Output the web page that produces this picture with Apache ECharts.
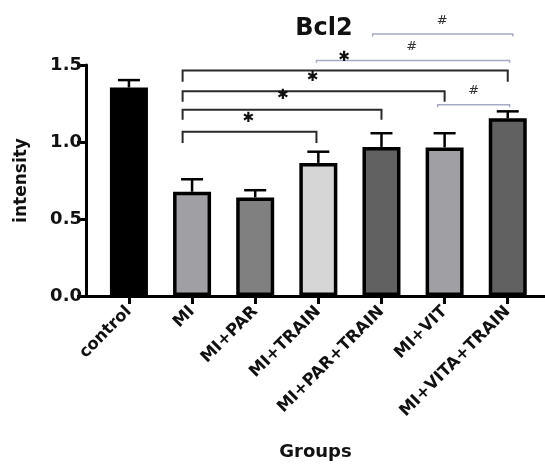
<!DOCTYPE html>
<html><head><meta charset="utf-8">
<script src="https://cdn.jsdelivr.net/npm/echarts@6/dist/echarts.min.js"></script>
<style>html,body{margin:0;padding:0;background:#fff}#c{width:545px;height:466px}</style>
</head><body><div id="c"></div>
<script>
const categories = ['control','MI','MI+PAR','MI+TRAIN','MI+PAR+TRAIN','MI+VIT','MI+VITA+TRAIN'];
const means = [1.354, 0.677, 0.640, 0.864, 0.968, 0.965, 1.154];
const errTops = [1.402, 0.758, 0.687, 0.937, 1.057, 1.057, 1.199];
const barColors = ['#000000','#a0a0a4','#808080','#d6d6d6','#616161','#a0a0a4','#616161'];
// brackets: [x1, x2, y, dropY, kind]
const brackets = [
  [0.85, 2.97, 1.067, 0.994, 'thick'],
  [0.85, 4.0, 1.209, 1.145, 'thick'],
  [0.85, 5.0, 1.329, 1.262, 'thick'],
  [0.85, 6.0, 1.465, 1.392, 'thick'],
  [3.86, 6.08, 1.701, 1.685, 'thin'],
  [2.97, 6.03, 1.530, 1.514, 'thin'],
  [4.89, 6.03, 1.242, 1.226, 'thin']
];
// significance marks: [x, y, text]
const marks = [
  [1.89, 1.154, '*'], [2.44, 1.30, '*'], [2.91, 1.419, '*'], [3.41, 1.551, '*'],
  [4.96, 1.791, '#'], [4.48, 1.622, '#'], [5.46, 1.334, '#']
];

const FONT = '"DejaVu Sans", sans-serif';
const idx = categories.map((_, i) => i);
const chart = echarts.init(document.getElementById('c'), null, {renderer: 'canvas'});
chart.setOption({
  animation: false,
  title: {text: 'Bcl2', left: 319, top: 12, textAlign: 'center',
    textStyle: {fontFamily: FONT, fontWeight: 'bold', fontSize: 24, color: '#111'}},
  grid: {left: 86, top: 65, right: 0, bottom: 155, containLabel: false},
  xAxis: {
    type: 'value', min: -0.68, max: 6.59,
    name: 'Groups', nameLocation: 'middle', nameGap: 147,
    nameTextStyle: {fontFamily: FONT, fontWeight: 'bold', fontSize: 18, color: '#111'},
    splitLine: {show: false},
    axisLine: {show: true, onZero: false, lineStyle: {color: '#000', width: 3}},
    axisTick: {show: true, customValues: idx, length: 8, lineStyle: {color: '#000', width: 3}},
    axisLabel: {customValues: idx, rotate: 45, margin: 13, formatter: v => categories[Math.round(v)] || '',
      fontFamily: FONT, fontWeight: 'bold', fontSize: 16.5, color: '#111'}
  },
  yAxis: {
    type: 'value', min: 0, max: 1.5, interval: 0.5,
    name: 'intensity', nameLocation: 'middle', nameGap: 56, nameRotate: 90,
    nameTextStyle: {fontFamily: FONT, fontWeight: 'bold', fontSize: 17, color: '#111'},
    splitLine: {show: false},
    axisLine: {show: true, onZero: false, lineStyle: {color: '#000', width: 3}},
    axisTick: {show: true, length: 9, lineStyle: {color: '#000', width: 3}},
    axisLabel: {formatter: v => v.toFixed(1), margin: 4,
      fontFamily: FONT, fontWeight: 'bold', fontSize: 18, color: '#111'}
  },
  series: [
    {
      type: 'bar', barWidth: 38, z: 2,
      data: means.map((m, i) => ({value: [i, m], itemStyle: {color: barColors[i], borderColor: '#000', borderWidth: 3.5}}))
    },
    {
      type: 'custom', z: 3,
      data: means.map((m, i) => [i, m, errTops[i]]),
      renderItem: (params, api) => {
        const b = api.coord([api.value(0), api.value(1)]);
        const t = api.coord([api.value(0), api.value(2)]);
        const st = {stroke: '#000', lineWidth: 2.5};
        return {type: 'group', children: [
          {type: 'line', shape: {x1: b[0], y1: b[1], x2: t[0], y2: t[1]}, style: st},
          {type: 'line', shape: {x1: t[0] - 11, y1: t[1], x2: t[0] + 11, y2: t[1]}, style: st}
        ]};
      }
    },
    {
      type: 'custom', z: 4, clip: false,
      data: brackets,
      renderItem: (params, api) => {
        const kind = brackets[params.dataIndex][4];
        const a = api.coord([api.value(0), api.value(2)]);
        const b = api.coord([api.value(1), api.value(2)]);
        const d = api.coord([api.value(0), api.value(3)]);
        const st = kind === 'thick' ? {stroke: '#2a2a2a', lineWidth: 2, fill: null} : {stroke: '#a6aac4', lineWidth: 1.5, fill: null};
        return {type: 'polyline', shape: {points: [[a[0], d[1]], a, b, [b[0], d[1]]]}, style: st};
      }
    },
    {
      type: 'custom', z: 5, clip: false,
      data: marks,
      renderItem: (params, api) => {
        const txt = marks[params.dataIndex][2];
        const p = api.coord([api.value(0), api.value(1)]);
        const star = txt === '*';
        return {type: 'text', x: p[0], y: p[1], style: {
          text: star ? '\u2731' : '#', align: 'center', verticalAlign: 'middle',
          font: (star ? 'bold 14px ' : '13px ') + FONT, fill: star ? '#111' : '#333'}};
      }
    }
  ]
});
</script></body></html>
